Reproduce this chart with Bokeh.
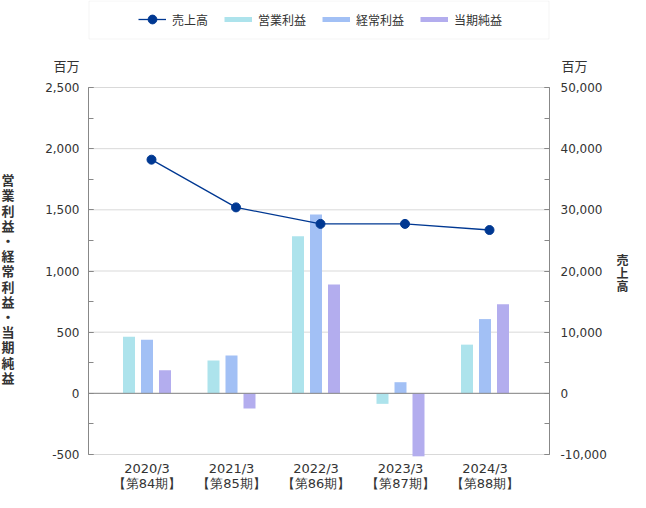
from bokeh.plotting import figure
from bokeh.models import (LinearAxis, Range1d, FixedTicker, SingleIntervalTicker,
                          NumeralTickFormatter, Legend, LegendItem, Label,
                          BoxAnnotation, ColumnDataSource)
from bokeh.transform import dodge
from bokeh.embed import file_html
from bokeh.resources import INLINE

# ---- data ----
periods = ["2020/3", "2021/3", "2022/3", "2023/3", "2024/3"]
terms = ["【第84期】", "【第85期】", "【第86期】", "【第87期】", "【第88期】"]
sales = [38200, 30400, 27700, 27700, 26700]          # 売上高 (right axis)
operating = [462, 269, 1285, -86, 398]               # 営業利益
ordinary = [438, 309, 1462, 91, 607]                 # 経常利益
net = [188, -124, 890, -515, 728]                    # 当期純益

left_ticks = [-500, 0, 500, 1000, 1500, 2000, 2500]
right_ticks = [-10000, 0, 10000, 20000, 30000, 40000, 50000]
RATIO = 20  # right axis units per left axis unit

# ---- layout / styles ----
W, H = 630, 492
X0, PPX = 146.5, 84.5             # pixel of first category, pixels per category
PL, PR = 88, 549                  # plot area left / right (pixels)
PT, PB = 87, 454                  # plot area top / bottom (pixels)
PPY = (PB - PT) / (left_ticks[-1] - left_ticks[0])
YZ = PB + left_ticks[0] * PPY     # pixel row of value 0

def fx(px):
    return (px - X0) / PPX

def fy(py):
    return (YZ - py) / PPY

C_OP = "#ade3ec"
C_ORD = "#a2c0f5"
C_NET = "#b3adee"
C_LINE = "#003892"
TXT = "#333333"
AXC = "#888888"
GRID = "#d9d9d9"
FONT_JP = "Noto Sans CJK JP"

idx = list(range(len(periods)))
src = ColumnDataSource(data=dict(x=idx, sales=sales, op=operating,
                                 ord=ordinary, net=net))

p = figure(width=W, height=H, min_border=0,
           x_range=Range1d(fx(0), fx(W)), y_range=Range1d(fy(H), fy(0)),
           output_backend="svg", toolbar_location=None)
p.extra_y_ranges = {"right": Range1d(fy(H) * RATIO, fy(0) * RATIO)}
p.outline_line_color = None
p.background_fill_color = "white"
p.border_fill_color = "white"
p.xgrid.visible = False
p.ygrid.visible = False

# grid lines and zero line
gsrc = ColumnDataSource(data=dict(y=left_ticks, x0=[fx(PL)] * len(left_ticks),
                                  x1=[fx(PR)] * len(left_ticks)))
p.segment(x0="x0", y0="y", x1="x1", y1="y", source=gsrc, line_color=GRID, line_width=1)

bw = 12 / PPX
off = 18 / PPX
p.vbar(x=dodge("x", -off, range=p.x_range), top="op", width=bw,
       source=src, fill_color=C_OP, line_color=None)
p.vbar(x=dodge("x", 0, range=p.x_range), top="ord", width=bw,
       source=src, fill_color=C_ORD, line_color=None)
p.vbar(x=dodge("x", off, range=p.x_range), top="net", width=bw,
       source=src, fill_color=C_NET, line_color=None)

p.segment(x0=[fx(PL)], y0=[0], x1=[fx(PR)], y1=[0], line_color=AXC, line_width=1)

LD = 4.5 / PPX
r_line = p.line(x=dodge("x", LD, range=p.x_range), y="sales", source=src,
                y_range_name="right", line_color=C_LINE, line_width=1.3)
r_pts = p.scatter(x=dodge("x", LD, range=p.x_range), y="sales", source=src,
                  y_range_name="right", size=9, fill_color=C_LINE,
                  line_color=C_LINE)

# legend proxies (thin swatches, not drawn in the plot)
lg_op = p.line(x="x", y="op", source=src, line_color=C_OP, line_width=5, visible=False)
lg_ord = p.line(x="x", y="ord", source=src, line_color=C_ORD, line_width=5, visible=False)
lg_net = p.line(x="x", y="net", source=src, line_color=C_NET, line_width=5, visible=False)

def style_y(ax, standoff):
    ax.axis_line_color = AXC
    ax.major_tick_line_color = AXC
    ax.minor_tick_line_color = AXC
    ax.major_tick_in = 5
    ax.major_tick_out = 0
    ax.minor_tick_in = 5
    ax.minor_tick_out = 0
    ax.major_label_standoff = standoff
    ax.major_label_text_font = "DejaVu Sans"
    ax.major_label_text_font_size = "12px"
    ax.major_label_text_color = TXT

ya = p.yaxis[0]
ya.ticker = SingleIntervalTicker(interval=500, num_minor_ticks=2)
ya.formatter = NumeralTickFormatter(format="0,0")
ya.fixed_location = fx(PL)
ya.bounds = (left_ticks[0], left_ticks[-1])
style_y(ya, 9)

ra = LinearAxis(y_range_name="right",
                ticker=SingleIntervalTicker(interval=10000, num_minor_ticks=2),
                formatter=NumeralTickFormatter(format="0,0"))
ra.fixed_location = fx(PR)
ra.bounds = (right_ticks[0], right_ticks[-1])
style_y(ra, 11)
p.add_layout(ra, "right")

xa = p.xaxis[0]
xa.ticker = FixedTicker(ticks=idx)
xa.fixed_location = left_ticks[0]
xa.bounds = (fx(PL), fx(PR))
xa.major_label_overrides = {i: f"{a}\n{b}" for i, (a, b) in enumerate(zip(periods, terms))}
xa.axis_line_color = None
xa.major_tick_line_color = None
xa.minor_tick_line_color = None
xa.major_label_standoff = 0
xa.major_label_text_font = "DejaVu Sans"
xa.major_label_text_font_size = "13px"
xa.major_label_text_color = TXT
xa.major_label_text_line_height = 1.0

# legend box
p.add_layout(BoxAnnotation(left=fx(PL + 0.5), right=fx(PR - 0.5), top=fy(0.5), bottom=fy(38.5),
                           fill_alpha=0, line_color=GRID, line_width=1))

legend = Legend(items=[
    LegendItem(label="売上高", renderers=[r_line, r_pts]),
    LegendItem(label="営業利益", renderers=[lg_op]),
    LegendItem(label="経常利益", renderers=[lg_ord]),
    LegendItem(label="当期純益", renderers=[lg_net]),
], location=(138, H - 30), orientation="horizontal")
legend.glyph_width = 28
legend.glyph_height = 22
legend.label_standoff = 6
legend.spacing = 16
legend.padding = 0
legend.margin = 0
legend.border_line_alpha = 0
legend.background_fill_alpha = 0
legend.inactive_fill_alpha = 0
legend.label_text_font = FONT_JP
legend.label_text_font_size = "12px"
legend.label_text_color = TXT
legend.label_text_baseline = "middle"
p.add_layout(legend)

# unit labels
p.add_layout(Label(x=fx(79), y=fy(65), text="百万", text_align="right",
                   text_baseline="middle", text_font=FONT_JP,
                   text_font_size="13px", text_color=TXT))
p.add_layout(Label(x=fx(561), y=fy(65), text="百万", text_align="left",
                   text_baseline="middle", text_font=FONT_JP,
                   text_font_size="13px", text_color=TXT))

# stacked vertical axis titles
left_title = "営業利益・経常利益・当期純益"
p.add_layout(Label(x=fx(7.5), y=fy(278), text="\n".join(left_title),
                   text_align="center", text_baseline="middle",
                   text_font=FONT_JP, text_font_size="13px",
                   text_font_style="bold", text_color=TXT, text_line_height=0.8))
right_title = "売上高"
p.add_layout(Label(x=fx(622), y=fy(272), text="\n".join(right_title),
                   text_align="center", text_baseline="middle",
                   text_font=FONT_JP, text_font_size="12px",
                   text_font_style="bold", text_color=TXT, text_line_height=0.78))

open("out.html", "w").write(file_html(p, INLINE))
